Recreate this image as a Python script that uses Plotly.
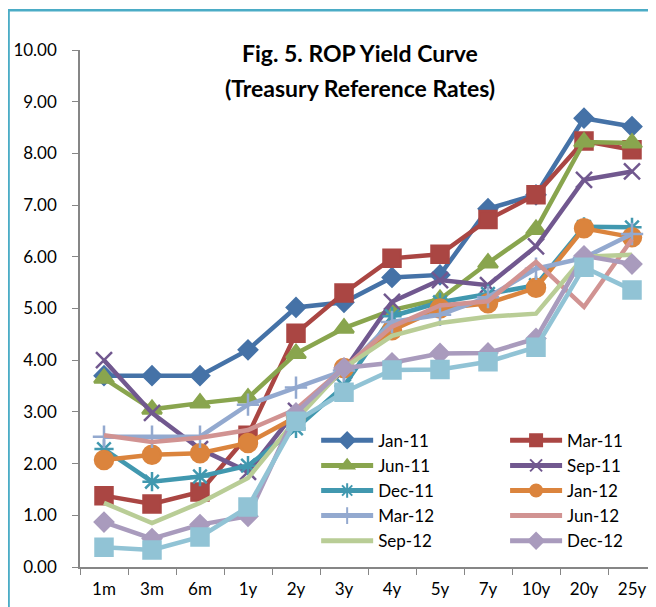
import plotly.graph_objects as go

tenors = ["1m", "3m", "6m", "1y", "2y", "3y", "4y", "5y", "7y", "10y", "20y", "25y"]

jan_11 = [3.70, 3.70, 3.70, 4.20, 5.02, 5.12, 5.60, 5.65, 6.93, 7.20, 8.68, 8.52]
mar_11 = [1.38, 1.22, 1.45, 2.55, 4.52, 5.30, 5.97, 6.05, 6.72, 7.20, 8.24, 8.07]
jun_11 = [3.65, 3.05, 3.17, 3.27, 4.13, 4.62, 4.97, 5.18, 5.88, 6.53, 8.22, 8.20]
sep_11 = [4.00, 2.98, 2.28, 1.84, 3.02, 3.80, 5.13, 5.55, 5.45, 6.20, 7.49, 7.65]
dec_11 = [2.28, 1.65, 1.75, 1.96, 2.68, 3.50, 4.85, 5.12, 5.28, 5.45, 6.58, 6.57]
jan_12 = [2.07, 2.17, 2.20, 2.40, 2.90, 3.85, 4.58, 5.00, 5.10, 5.40, 6.55, 6.38]
mar_12 = [2.52, 2.52, 2.52, 3.14, 3.47, 3.80, 4.74, 4.88, 5.22, 5.77, 5.98, 6.44]
jun_12 = [2.55, 2.42, 2.50, 2.65, 3.05, 3.85, 4.65, 5.06, 5.14, 5.90, 5.03, 6.34]
sep_12 = [1.24, 0.85, 1.24, 1.72, 2.85, 3.85, 4.47, 4.72, 4.84, 4.90, 6.00, 6.04]
dec_12 = [0.87, 0.55, 0.82, 0.98, 2.98, 3.85, 3.95, 4.13, 4.14, 4.42, 6.02, 5.86]
mar_13 = [0.38, 0.33, 0.58, 1.16, 2.82, 3.38, 3.81, 3.82, 3.97, 4.25, 5.80, 5.36]

# name, values, colour, marker symbol, marker size, legend column
series = [
    ("Jan-11", jan_11, "#4572A7", "diamond", 14, "legend"),
    ("Mar-11", mar_11, "#AA4643", "square", 17, "legend2"),
    ("Jun-11", jun_11, "#89A54E", "triangle-up", 17, "legend"),
    ("Sep-11", sep_11, "#71588F", "x-thin-open", 16, "legend2"),
    ("Dec-11", dec_11, "#4198AF", "asterisk-open", 16, "legend"),
    ("Jan-12", jan_12, "#DB843D", "circle", 18, "legend2"),
    ("Mar-12", mar_12, "#93A9CF", "cross-thin-open", 16, "legend"),
    ("Jun-12", jun_12, "#D19392", None, 0, "legend2"),
    ("Sep-12", sep_12, "#B9CD96", None, 0, "legend"),
    ("Dec-12", dec_12, "#A99BBD", "diamond", 14, "legend2"),
    ("Mar-13", mar_13, "#91C3D5", "square", 17, None),
]

fig = go.Figure()
for name, vals, col, sym, size, leg in series:
    if sym is None:
        mode = "lines"
        marker = dict()
    else:
        mode = "lines+markers"
        marker = dict(symbol=sym, size=size, color=col,
                      line=dict(color=col, width=2.5))
    fig.add_trace(go.Scatter(
        x=tenors, y=vals, name=name, mode=mode,
        line=dict(color=col, width=4.5),
        marker=marker,
        legend=leg if leg else "legend",
        showlegend=leg is not None,
    ))

font = "Lato, 'Open Sans', sans-serif"
axis_col = "#868686"

# page body adds an 8px offset, so the figure is 8px smaller than the window
fig.update_layout(
    width=648, height=599,
    margin=dict(l=72, r=0, t=42, b=40),
    paper_bgcolor="white", plot_bgcolor="white",
    font=dict(family=font, size=17, color="black"),
    legend=dict(x=0.41, y=0.279, xanchor="left", yanchor="top", itemwidth=52,
                bgcolor="rgba(0,0,0,0)", font=dict(size=17), itemsizing="constant"),
    legend2=dict(x=0.738, y=0.279, xanchor="left", yanchor="top", itemwidth=52,
                 bgcolor="rgba(0,0,0,0)", font=dict(size=17), itemsizing="constant"),
    xaxis=dict(type="category", range=[-0.5, 11.5], showline=True, linecolor=axis_col,
               linewidth=1.5, ticks="outside", tickson="boundaries", ticklen=6,
               tickcolor=axis_col, showgrid=False, zeroline=False,
               ticklabelstandoff=6, automargin=False),
    yaxis=dict(range=[0, 10], dtick=1, tickformat=".2f", showline=True,
               linecolor=axis_col, linewidth=1.5, ticks="outside", ticklen=6,
               tickcolor=axis_col, showgrid=False, zeroline=False,
               ticklabelstandoff=12, automargin=False),
    annotations=[
        dict(text="<b>Fig. 5. ROP Yield Curve</b>", xref="paper", yref="paper",
             x=0.486, y=0.995, xanchor="center", yanchor="middle", showarrow=False,
             font=dict(size=23)),
        dict(text="<b>(Treasury Reference Rates)</b>", xref="paper", yref="paper",
             x=0.486, y=0.927, xanchor="center", yanchor="middle", showarrow=False,
             font=dict(size=23)),
    ],
    shapes=[
        dict(type="rect", xref="paper", yref="paper", x0=-0.124, x1=1.2,
             y0=-0.3, y1=1.077, line=dict(color="#4BACC6", width=2.5)),
    ],
)

fig.write_html("out.html")
